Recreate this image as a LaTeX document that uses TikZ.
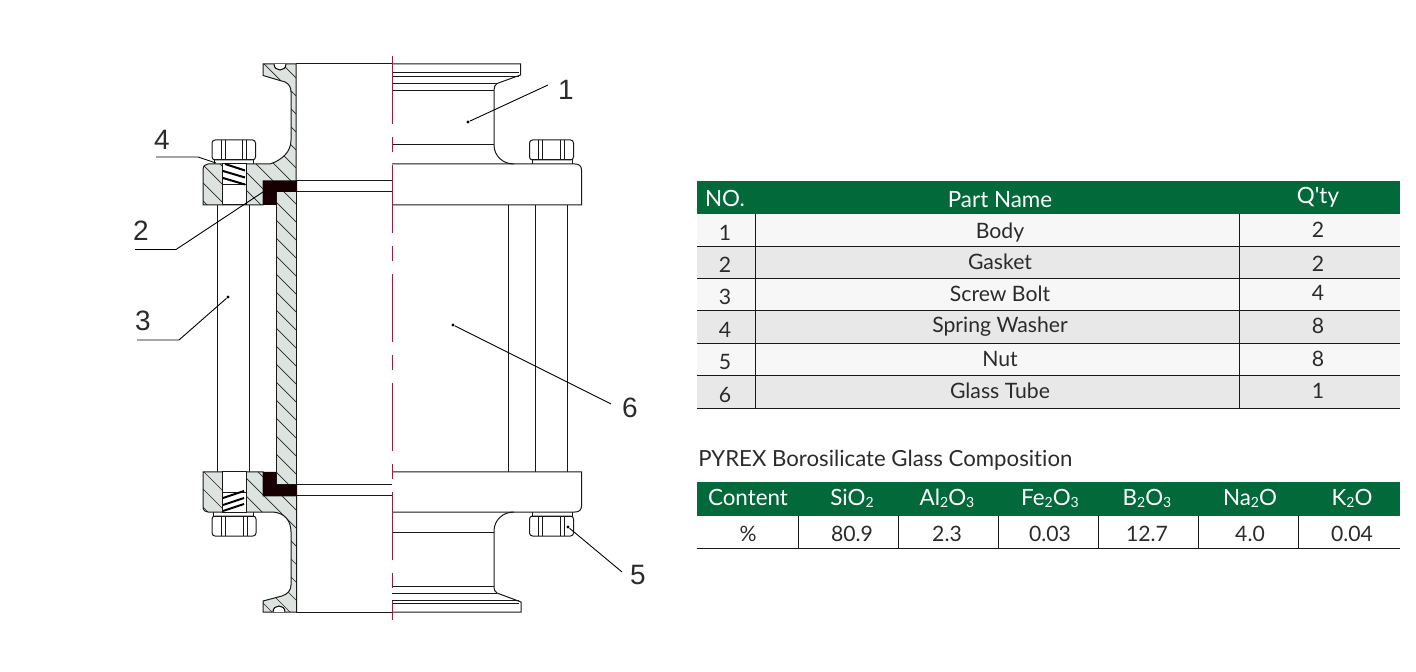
\documentclass[tikz,border=0pt]{standalone}
\usepackage{fontspec}
\setmainfont{Lato}[Ligatures=NoCommon]
\newfontfamily\calloutfont{Liberation Sans}

\definecolor{tablegreen}{HTML}{02693A}
\definecolor{rowlight}{HTML}{F7F7F7}
\definecolor{rowdark}{HTML}{E8E8E8}
\definecolor{bodygrey}{HTML}{DDE3DE}
\definecolor{axisred}{HTML}{A01C3C}
\definecolor{inktext}{HTML}{2B2B2B}

\tikzset{
	outline/.style={line width=0.5pt,black!90},
	hatchline/.style={line width=0.35pt,black!85},
	leader/.style={line width=0.45pt,black},
	axisline/.style={line width=0.5pt,axisred,dash pattern=on 34pt off 6.5pt on 7.5pt off 6.5pt},
	rule/.style={line width=0.5pt,black!90},
	callout/.style={font=\calloutfont\fontsize{14}{16}\selectfont,text=inktext,inner sep=0pt},
	cell/.style={font=\fontsize{10.6}{12}\selectfont,text=inktext,anchor=base,inner sep=0pt},
	headcell/.style={cell,font=\fontsize{11.2}{12}\selectfont,text=white},
	tipdot/.style={circle,fill=black,minimum size=1.6pt,inner sep=0pt},
}

\newcommand{\hatchpart}[1]{%
	\fill[bodygrey] #1;
	\begin{scope}
		\clip #1;
		\foreach \k in {-700,-682,...,400} \draw[hatchline] (\k,0) -- ++(700,700);
	\end{scope}
	\draw[outline] #1;
}
\newcommand{\hexnut}[4]{% left, right, top, bottom
	\draw[outline,rounded corners=1.5pt] (#1,#3) rectangle (#2,#4);
	\foreach \d in {9,13} \draw[outline] ({#1+\d},#3) -- ({#1+\d},#4);
	\foreach \d in {9,13} \draw[outline] ({#2-\d},#3) -- ({#2-\d},#4);
}
\newcommand{\chem}[1]{\raisebox{-0.1ex}{\fontsize{7}{8}\selectfont #1}}

\begin{document}
\begin{tikzpicture}[x=0.5pt,y=-0.5pt]
	\useasboundingbox (0,0) rectangle (1416,672);

	% straight lines of the right half
	\foreach \y in {91,144.5,532,586} \draw[outline] (392,\y) -- (494,\y);
	\foreach \y in {83.5,593} \draw[outline] (392,\y) -- (497,\y);
	\foreach \y in {73,76.5,600,603} \draw[outline] (392,\y) -- (519,\y);
	\foreach \y in {181,192,485,496} \draw[outline] (296,\y) -- (392,\y);
	\draw[outline] (296,64) -- (392,64);
	\draw[outline] (296,612) -- (392,612);

	% right body, top and bottom
	\draw[outline] (392,64) -- (520.5,64) -- (520.5,75) -- (497,83.5) .. controls (495,85) and (494,87) .. (494,90)
		-- (494,145) .. controls (494,156) and (503,164) .. (514,164);
	\draw[outline] (514,512) .. controls (503,512) and (494,520) .. (494,531)
		-- (494,586) .. controls (494,590) and (495,592) .. (497,593) -- (521,602) -- (521,612) -- (392,612);
	\draw[outline] (392,164) -- (575,164) .. controls (579,164) and (581.5,166) .. (581.5,170) -- (581.5,205) -- (392,205);
	\draw[outline] (392,472) -- (581.5,472) -- (581.5,506) .. controls (581.5,510) and (579,512) .. (575,512) -- (392,512);

	% bolts
	\foreach \x in {217,249,508,535,567} \draw[outline] (\x,205) -- (\x,472);
	\draw[outline] (214,164) -- (214,160) -- (253,160) -- (253,164);
	\draw[outline] (213,512) -- (213,516) -- (253,516) -- (253,512);
	\draw[outline] (532,164) -- (532,160) -- (572,160) -- (572,164);
	\draw[outline] (532,512) -- (532,516) -- (572,516) -- (572,512);
	\hexnut{212}{255.5}{140}{160}
	\hexnut{212}{256}{516}{536}
	\hexnut{529.5}{573.5}{140}{160}
	\hexnut{529.5}{573.5}{516}{536}

	% section, glass wall and both flanges
	\hatchpart{(276,192) -- (296,192) -- (296,485) -- (276,485) -- cycle}
	\hatchpart{(263,64) -- (296,64) -- (296,181) -- (263,181) -- (263,205) -- (203,205) -- (203,170)
		.. controls (203,166) and (205,164) .. (208,164) -- (270,164) .. controls (282,160) and (291,152) .. (291,140)
		-- (291,92) .. controls (291,87) and (289,84) .. (285,82) -- (263,75.5) -- cycle}
	\hatchpart{(263,472) -- (203,472) -- (203,508) .. controls (203,510) and (205,512) .. (208,512)
		-- (273,512) .. controls (284,513) and (291,520) .. (291,532) -- (291,585)
		.. controls (291,590) and (288,594) .. (282,596) -- (263,601) -- (263,612) -- (296.5,612) -- (296.5,496) -- (263,496) -- cycle}
	\fill[white,draw=black,line width=0.5pt] (274,64) .. controls (274,72) and (286,72) .. (286,64);
	\fill[white,draw=black,line width=0.5pt] (273,612) .. controls (273,604) and (285,604) .. (285,612);

	% gasket
	\fill[black!90!red] (263,181) -- (297,181) -- (297,192) -- (276,192) -- (276,205) -- (263,205) -- cycle;
	\fill[black!90!red] (263,472) -- (276,472) -- (276,485) -- (297,485) -- (297,496) -- (263,496) -- cycle;

	% bolt holes with spring washers
	\draw[outline,fill=white] (222,164) rectangle (246,205);
	\draw[outline,fill=white] (222,472) rectangle (246,512);
	\draw[outline] (222,185) -- (246,185);
	\draw[outline] (222,492.5) -- (246,492.5);
	\foreach \a/\b in {225/164,223/171,223/178} \draw[line width=1pt] (\a,\b) -- (245,{\b+6.5});
	\foreach \a/\b in {223/498,223/505,223/511} \draw[line width=1pt] (\a,\b) -- ({\a+21},{\b-7});

	% centre line
	\draw[axisline] (392,56) -- (392,620);

	% leaders and part numbers
	\node[tipdot] (dot1) at (468,122) {};
	\node[tipdot] (dot3) at (228,297) {};
	\node[tipdot] (dot5) at (568,527) {};
	\node[tipdot] (dot6) at (453,325) {};
	\coordinate (end1) at (548,85);
	\coordinate (end2) at (263,192);
	\coordinate (bend2) at (176,249.5);
	\coordinate (free2) at (135,249.5);
	\coordinate (bend3) at (179,340);
	\coordinate (free3) at (137,340);
	\coordinate (end4) at (216,163);
	\coordinate (bend4) at (198,157);
	\coordinate (free4) at (156,157);
	\coordinate (end5) at (622,572);
	\coordinate (end6) at (611,404);
	\draw[leader] (dot1) -- (end1);
	\draw[leader] (end2) -- (bend2) -- (free2);
	\draw[leader] (dot3) -- (bend3) -- (free3);
	\draw[leader] (end4) -- (bend4) -- (free4);
	\draw[leader] (dot5) -- (end5);
	\draw[leader] (dot6) -- (end6);
	\node[callout] (lab1) at (566,90) {1};
	\node[callout] (lab2) at (141,231) {2};
	\node[callout] (lab3) at (143,321) {3};
	\node[callout] (lab4) at (162,140) {4};
	\node[callout] (lab5) at (638,575) {5};
	\node[callout] (lab6) at (630,408) {6};

	% parts table
	\fill[tablegreen] (697,181) rectangle (1400,214);
	\fill[rowlight] (697,214) rectangle (1400,246.5);
	\fill[rowdark] (697,246.5) rectangle (1400,278.5);
	\fill[rowlight] (697,278.5) rectangle (1400,310.5);
	\fill[rowdark] (697,310.5) rectangle (1400,343.5);
	\fill[rowlight] (697,343.5) rectangle (1400,375.5);
	\fill[rowdark] (697,375.5) rectangle (1400,408.5);
	\foreach \y in {246.5,278.5,310.5,343.5,375.5,408.5} \draw[rule] (697,\y) -- (1400,\y);
	\foreach \x in {755.5,1239.5} \draw[rule] (\x,214) -- (\x,408.5);
	\node[headcell] (headno) at (725,207) {NO.};
	\node[headcell] (headname) at (1000,207.5) {Part Name};
	\node[headcell] (headqty) at (1318,204) {Q\textquotesingle ty};
	\foreach \no/\part/\qty/\yno/\ypart/\yqty in {1/Body/2/240.5/238.5/238,2/Gasket/2/272.5/269.5/271.5,3/Screw Bolt/4/304.5/301.5/300.5,4/Spring Washer/8/337.5/333/333.5,5/Nut/8/369.5/366.5/366.5,6/Glass Tube/1/402.5/399/398.5} {
		\node[cell] (no\no) at (725,\yno) {\no};
		\node[cell] (part\no) at (1000,\ypart) {\part};
		\node[cell] (qty\no) at (1318,\yqty) {\qty};
	}

	% composition table
	\node[cell,anchor=base west,font=\fontsize{11.1}{12}\selectfont] (comptitle) at (698,466.5) {PYREX Borosilicate Glass Composition};
	\fill[tablegreen] (697,482) rectangle (1400,515.5);
	\draw[rule] (697,548) -- (1400,548);
	\foreach \x in {798.5,898.5,998.5,1098.5,1198.5,1298.5} \draw[rule] (\x,515.5) -- (\x,548);
	\foreach \x/\head/\val [count=\c] in {748/Content/\%,852/SiO\chem{2}/80.9,947/Al\chem{2}O\chem{3}/2.3,1050/Fe\chem{2}O\chem{3}/0.03,1147/B\chem{2}O\chem{3}/12.7,1250/Na\chem{2}O/4.0,1352/K\chem{2}O/0.04} {
		\node[headcell] (comp\c) at (\x,506) {\head};
		\node[cell] (val\c) at (\x,541) {\val};
	}
\end{tikzpicture}
\end{document}
